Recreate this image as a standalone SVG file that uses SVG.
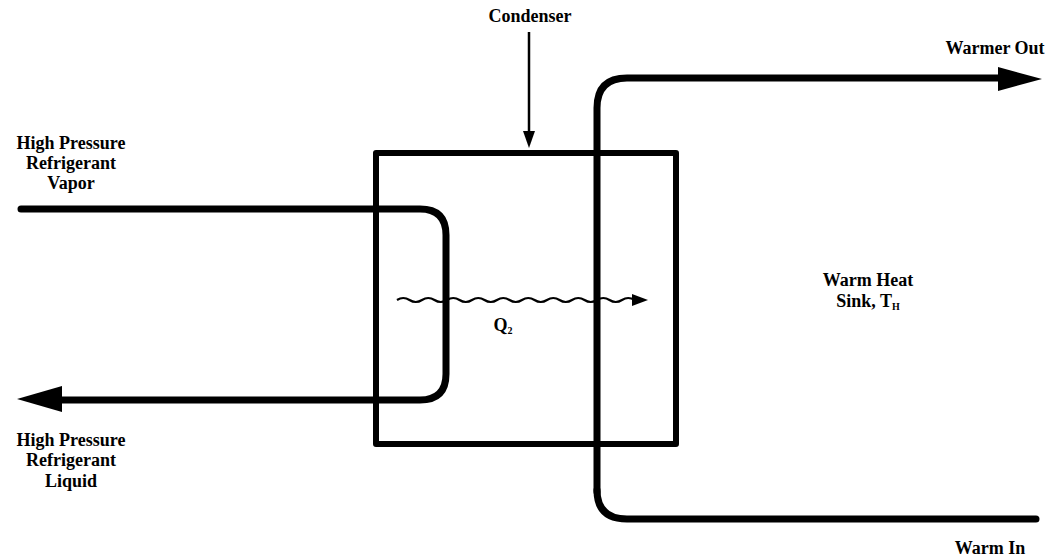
<svg xmlns="http://www.w3.org/2000/svg" width="1051" height="556" viewBox="0 0 1051 556">
<style>
.t{font-family:"Liberation Serif","Times New Roman",serif;font-weight:bold;font-size:18px;fill:#000;text-anchor:middle}
.pipe{fill:none;stroke:#000;stroke-width:7;stroke-linecap:round;stroke-linejoin:round}
.box{fill:none;stroke:#000;stroke-width:6;stroke-linejoin:round}
</style>
<rect width="1051" height="556" fill="#fff"/>
<g id="condenser">
<rect class="box" x="376" y="153" width="300" height="291"/>
<text class="t" x="530" y="22">Condenser</text>
</g>
<g id="refrigerant-in">
<text class="t" x="71" y="149">High Pressure</text>
<text class="t" x="71" y="169">Refrigerant</text>
<text class="t" x="71" y="189">Vapor</text>
</g>
<g id="refrigerant-out">
<text class="t" x="71" y="446">High Pressure</text>
<text class="t" x="71" y="466">Refrigerant</text>
<text class="t" x="71" y="487">Liquid</text>
</g>
<g id="heat-sink">
<text class="t" x="868" y="286">Warm Heat</text>
<text class="t" x="868" y="307">Sink, T<tspan font-size="10" dy="3">H</tspan></text>
</g>
<g id="warmer-out"><text class="t" x="995" y="54">Warmer Out</text></g>
<g id="warm-in"><text class="t" x="990" y="554">Warm In</text></g>
<g id="q2"><text class="t" x="503" y="331">Q<tspan font-size="10" dy="3">2</tspan></text></g>
<g id="connectors">
<path class="pipe" d="M21 209 H420 Q446 209 446 235 V374 Q446 400 420 400 H55"/>
<polygon points="17,399 62,386 62,412"/>
<path class="pipe" d="M597 492 V108 Q597 78 627 78 H1000"/>
<path class="pipe" d="M597 490 Q597 519 627 519 H1036"/>
<polygon points="1042,79 998,67 998,91"/>
<line x1="529" y1="32" x2="529" y2="135" stroke="#000" stroke-width="2.5"/>
<polygon points="529,148 523,131 535,131"/>
<path fill="none" stroke="#000" stroke-width="2.2" d="M397 300 q6.25 -4 12.5 0 t12.5 0 t12.5 0 t12.5 0 t12.5 0 t12.5 0 t12.5 0 t12.5 0 t12.5 0 t12.5 0 t12.5 0 t12.5 0 t12.5 0 t12.5 0 t12.5 0 t12.5 0 t12.5 0 t12.5 0 t12.5 0"/>
<polygon points="648,300 632,294 632,306"/>
</g>
</svg>
